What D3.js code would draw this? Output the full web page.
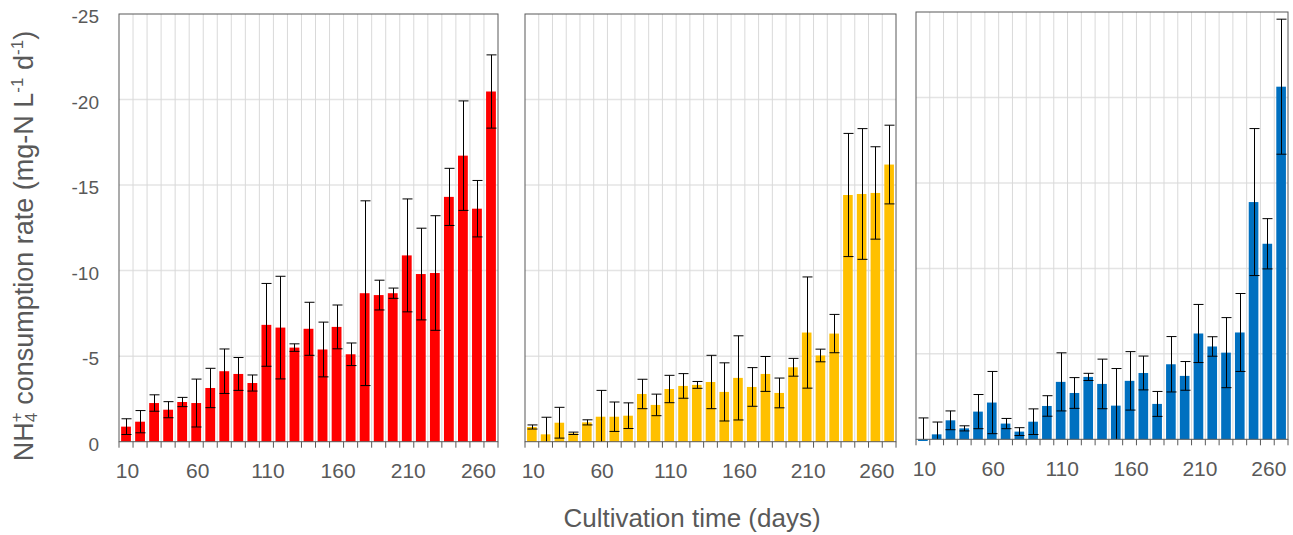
<!DOCTYPE html>
<html><head><meta charset="utf-8">
<script src="https://cdn.jsdelivr.net/npm/d3@7"></script>
<style>body{margin:0;background:#fff}svg{display:block}</style>
</head><body><svg id="c" width="1293" height="535"></svg>
<script>
const categories = [10,20,30,40,50,60,70,80,90,100,110,120,130,140,150,160,170,180,190,200,210,220,230,240,250,260,270];
const xTickLabels = [10,60,110,160,210,260];
const yTicks = [0,-5,-10,-15,-20,-25];
const yTitle = "consumption rate (mg-N L";
const xTitle = "Cultivation time (days)";

const redMeans = [-0.88,-1.17,-2.26,-1.87,-2.32,-2.26,-3.14,-4.12,-3.96,-3.43,-6.83,-6.67,-5.50,-6.60,-5.39,-6.71,-5.11,-8.68,-8.57,-8.68,-10.89,-9.80,-9.86,-14.31,-16.72,-13.62,-20.47];
const redErrors = [0.46,0.65,0.48,0.47,0.27,1.4,1.15,1.3,0.96,0.47,2.42,3.0,0.22,1.55,1.6,1.28,0.66,5.4,0.87,0.3,3.3,2.68,3.35,1.67,3.2,1.65,2.14];

const yellowMeans = [-0.86,-0.43,-1.11,-0.49,-1.13,-1.46,-1.46,-1.52,-2.79,-2.15,-3.08,-3.26,-3.32,-3.49,-2.91,-3.73,-3.20,-3.96,-2.85,-4.35,-6.38,-5.04,-6.32,-14.42,-14.48,-14.54,-16.2];
const yellowErrors = [0.12,1.0,0.9,0.07,0.15,1.54,0.86,0.75,0.86,0.63,0.8,0.72,0.2,1.56,1.7,2.46,1.13,1.02,0.87,0.52,3.25,0.37,1.12,3.6,3.82,2.7,2.3];

const blueMeans = [0.1,-0.29,-1.11,-0.64,-1.62,-2.15,-0.92,-0.45,-1.03,-1.95,-3.36,-2.71,-3.65,-3.24,-1.97,-3.42,-3.88,-2.07,-4.39,-3.71,-6.19,-5.43,-5.07,-6.25,-13.88,-11.44,-20.63];
const blueErrors = [1.35,0.72,0.55,0.15,1.0,1.82,0.3,0.23,0.75,0.6,1.7,0.9,0.21,1.45,2.17,1.71,0.99,0.73,1.62,0.84,1.7,0.57,2.05,2.28,4.3,1.47,3.95];

const FONT = "'Liberation Sans',Arial,sans-serif";
const TXT = "#595959";

const panels = [
  {means: redMeans, errors: redErrors, color: "#FF0000", left:119, right:498, top:14, bottom:441.7, yLabels:true},
  {means: yellowMeans, errors: yellowErrors, color: "#FFC000", left:525, right:896, top:14, bottom:441.7, yLabels:false},
  {means: blueMeans, errors: blueErrors, color: "#0070C0", left:916, right:1288, top:12, bottom:439.3, yLabels:false}
];

const svg = d3.select("#c");
const defs = svg.append("defs");

panels.forEach((p, pi) => {
  const x = d3.scaleBand().domain(categories).range([p.left, p.right]).paddingInner(0.3).paddingOuter(0.15);
  const y = d3.scaleLinear().domain([0, -25]).range([p.bottom, p.top]);
  const step = x.step();
  const half = step * 0.3 / 2;
  const g = svg.append("g");

  defs.append("clipPath").attr("id", "clip" + pi).append("rect")
    .attr("x", p.left).attr("y", p.top).attr("width", p.right - p.left).attr("height", p.bottom - p.top);

  // horizontal grid
  g.selectAll(".hg").data(yTicks.slice(1, -1)).join("line")
    .attr("x1", p.left).attr("x2", p.right)
    .attr("y1", d => y(d)).attr("y2", d => y(d))
    .attr("stroke", "#e4e4e4").attr("stroke-width", 1.5);
  // vertical grid at category boundaries
  g.selectAll(".vg").data(categories.slice(1)).join("line")
    .attr("x1", d => x(d) - half).attr("x2", d => x(d) - half)
    .attr("y1", p.top).attr("y2", p.bottom)
    .attr("stroke", "#d9d9d9").attr("stroke-width", 1);

  // bars
  g.selectAll(".bar").data(categories).join("rect")
    .attr("x", d => x(d))
    .attr("width", x.bandwidth())
    .attr("y", (d, i) => Math.min(y(p.means[i]), y(0)))
    .attr("height", (d, i) => Math.abs(y(p.means[i]) - y(0)))
    .attr("fill", p.color);

  // error bars
  const eg = g.append("g").attr("clip-path", "url(#clip" + pi + ")")
    .attr("stroke", "#000").attr("stroke-width", 1);
  const capW = 5;
  categories.forEach((c, i) => {
    const cx = Math.round(x(c) + x.bandwidth() / 2) + 0.5;
    const yt = y(p.means[i] - p.errors[i]);
    const yb = y(p.means[i] + p.errors[i]);
    eg.append("line").attr("x1", cx).attr("x2", cx).attr("y1", yt).attr("y2", yb);
    eg.append("line").attr("x1", cx - capW).attr("x2", cx + capW).attr("y1", yt).attr("y2", yt);
    eg.append("line").attr("x1", cx - capW).attr("x2", cx + capW).attr("y1", yb).attr("y2", yb);
  });

  // frame
  g.append("rect").attr("x", p.left).attr("y", p.top)
    .attr("width", p.right - p.left).attr("height", p.bottom - p.top)
    .attr("fill", "none").attr("stroke", "#595959").attr("stroke-width", 1);

  // bottom tick marks at boundaries
  const bounds = categories.map(c => x(c) - half).concat([p.right]);
  g.selectAll(".tk").data(bounds).join("line")
    .attr("x1", d => d).attr("x2", d => d)
    .attr("y1", p.bottom).attr("y2", p.bottom + 6)
    .attr("stroke", "#595959").attr("stroke-width", 1);

  // x tick labels
  g.selectAll(".xl").data(xTickLabels).join("text")
    .attr("x", d => x(d) + x.bandwidth() / 2 + 1.5)
    .attr("y", p.bottom + 36.5)
    .attr("text-anchor", "middle")
    .attr("font-family", FONT).attr("font-size", 21).attr("fill", TXT)
    .text(d => d);

  if (p.yLabels) {
    g.selectAll(".yl").data(yTicks).join("text")
      .attr("x", 99).attr("y", d => y(d) + 2.5).attr("dy", "0.35em")
      .attr("text-anchor", "end")
      .attr("font-family", FONT).attr("font-size", 19).attr("fill", TXT)
      .text(d => d);
  }
});

// y title
const yt = svg.append("text")
  .attr("transform", "translate(33,246) rotate(-90)")
  .attr("text-anchor", "middle")
  .attr("font-family", FONT).attr("font-size", 27).attr("fill", TXT);
yt.append("tspan").text("NH");
yt.append("tspan").attr("font-size", 17).attr("baseline-shift", "-22%").text("4");
yt.append("tspan").attr("font-size", 17).attr("dx", -9.5).attr("baseline-shift", "62%").text("+");
yt.append("tspan").text(" " + yTitle);
yt.append("tspan").attr("font-size", 17).attr("baseline-shift", "60%").text("-1");
yt.append("tspan").text(" d");
yt.append("tspan").attr("font-size", 17).attr("baseline-shift", "60%").text("-1");
yt.append("tspan").text(")");

// x title
svg.append("text").attr("x", 692).attr("y", 527)
  .attr("text-anchor", "middle")
  .attr("font-family", FONT).attr("font-size", 26).attr("fill", TXT)
  .text(xTitle);
</script></body></html>
